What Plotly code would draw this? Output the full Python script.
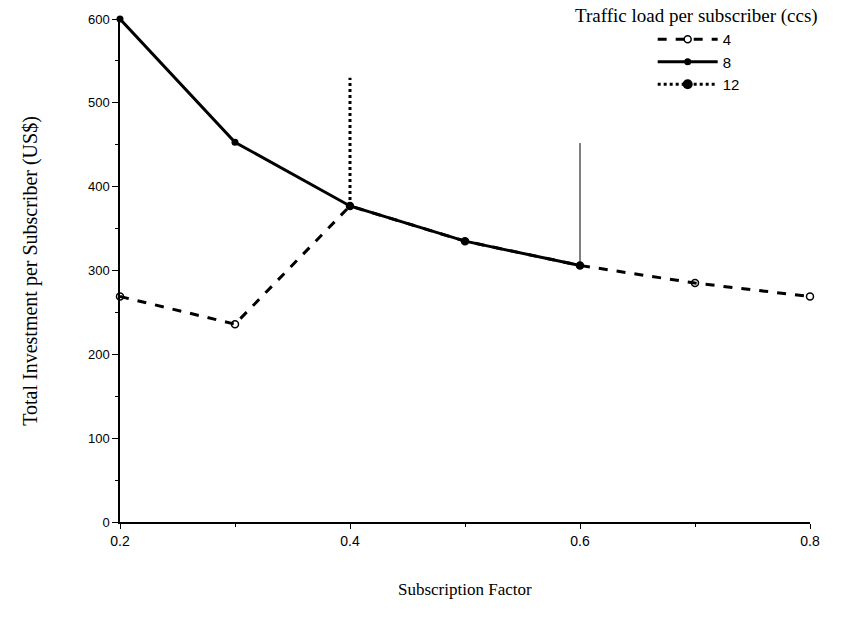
import plotly.graph_objects as go

# Data
x4 = [0.2, 0.3, 0.4, 0.5, 0.6, 0.7, 0.8]
y4 = [269, 236, 377, 335, 306, 285, 269]

x8 = [0.2, 0.3, 0.4, 0.5, 0.6]
y8 = [600, 453, 377, 335, 306]
x8_rise = [0.6, 0.6]
y8_rise = [306, 452]

x12 = [0.4, 0.4]
y12 = [377, 530]

names = ["4", "8", "12"]
x_ticks = [0.2, 0.4, 0.6, 0.8]
y_ticks = [0, 100, 200, 300, 400, 500, 600]

serif = "Liberation Serif, Times New Roman, serif"
sans = "Liberation Sans, Arial, sans-serif"

fig = go.Figure()

fig.add_trace(go.Scatter(
    x=x4, y=y4, name=names[0], mode="lines+markers",
    line=dict(color="black", width=3, dash="dash"),
    marker=dict(symbol="circle-open", size=7, color="black", line=dict(width=1.5)),
    cliponaxis=False,
))
fig.add_trace(go.Scatter(
    x=x8, y=y8, name=names[1], mode="lines+markers",
    line=dict(color="black", width=3),
    marker=dict(symbol="circle", size=7, color="black"),
    cliponaxis=False,
))
fig.add_trace(go.Scatter(
    x=x8_rise, y=y8_rise, name=names[1], mode="lines", showlegend=False,
    legendgroup="8", line=dict(color="black", width=1),
    cliponaxis=False,
))
fig.add_trace(go.Scatter(
    x=x12, y=y12, name=names[2], mode="lines", showlegend=False,
    legendgroup="12",
    line=dict(color="black", width=3, dash="dot"),
    cliponaxis=False,
))
# legend entry for series 12 (dotted line with large dot)
fig.add_trace(go.Scatter(
    x=[None], y=[None], name=names[2], mode="lines+markers", legendgroup="12",
    line=dict(color="black", width=3, dash="dot"),
    marker=dict(symbol="circle", size=10, color="black"),
))

fig.update_layout(
    width=855, height=627,
    margin=dict(l=120, r=45, t=19, b=105),
    plot_bgcolor="white", paper_bgcolor="white",
    showlegend=True,
    legend=dict(
        x=0.772, y=0.992, xanchor="left", yanchor="top",
        font=dict(family=sans, size=15, color="black"),
        bgcolor="rgba(0,0,0,0)", itemwidth=60, tracegroupgap=0,
    ),
    font=dict(family=sans, color="black"),
    annotations=[
        dict(text="Traffic load per subscriber (ccs)", xref="paper", yref="paper",
             x=1.015, y=1.005, xanchor="right", yanchor="middle", showarrow=False,
             font=dict(family=serif, size=19, color="black")),
        dict(text="Subscription Factor", xref="paper", yref="paper",
             x=0.5, y=-0.135, xanchor="center", yanchor="middle", showarrow=False,
             font=dict(family=serif, size=17, color="black")),
        dict(text="Total Investment per Subscriber (US$)", xref="paper", yref="paper",
             x=-0.13, y=0.5, xanchor="center", yanchor="middle", showarrow=False,
             textangle=-90, font=dict(family=serif, size=20, color="black")),
    ],
)

fig.update_xaxes(
    range=[0.2, 0.8], tickvals=x_ticks, tickformat=".1f",
    showgrid=False, zeroline=False, showline=True, linecolor="black", linewidth=2,
    ticks="outside", ticklen=5, tickcolor="black",
    minor=dict(dtick=0.1, tick0=0.2, ticks="outside", ticklen=3, tickcolor="black"),
    tickfont=dict(family=sans, size=14, color="black"),
)
fig.update_yaxes(
    range=[0, 600], tickvals=y_ticks,
    showgrid=False, zeroline=False, showline=True, linecolor="black", linewidth=1.5,
    ticks="outside", ticklen=6, tickcolor="black",
    minor=dict(dtick=50, tick0=0, ticks="outside", ticklen=3, tickcolor="black"),
    tickfont=dict(family=sans, size=13, color="black"),
)

fig.write_html("out.html")
